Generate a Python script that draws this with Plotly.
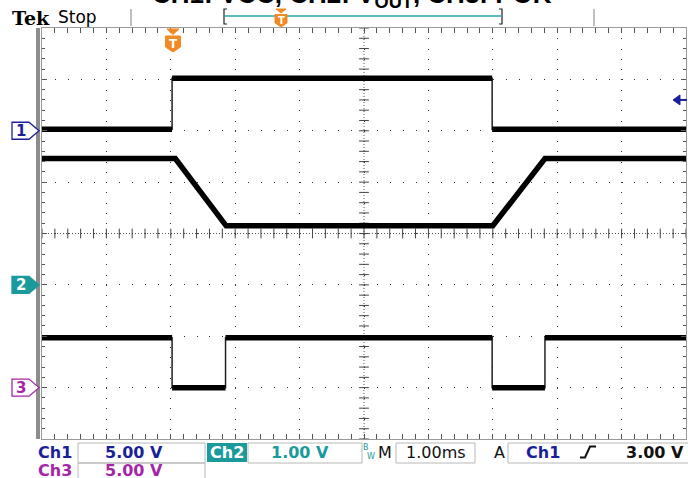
import numpy as np
import plotly.graph_objects as go

# ---------------- data (time in ms, values in volts) ----------------
t_ch1 = [-2.0, 0.02, 0.02, 4.99, 4.99, 8.0]
v_ch1 = [0.15, 0.15, 5.1, 5.1, 0.15, 0.15]

t_ch2 = [-2.0, 0.07, 0.86, 5.0, 5.81, 8.0]
v_ch2 = [2.46, 2.46, 1.15, 1.15, 2.46, 2.46]

t_ch3 = [-2.0, 0.02, 0.02, 0.85, 0.85, 4.99, 4.99, 5.81, 5.81, 8.0]
v_ch3 = [4.86, 4.86, 0.0, 0.0, 4.86, 4.86, 0.0, 0.0, 4.86, 4.86]

# scope settings
ch_scale = {"ch1": 5.0, "ch2": 1.0, "ch3": 5.0}     # V/div
ch_offset = {"ch1": 2.0, "ch2": -1.0, "ch3": -3.0}  # div
time_range = [-2.0, 8.0]
trig_level = 3.00

# ---------------- layout geometry ----------------
W, H = 688, 478
L, R, T, B = 42, 2, 28, 39
PW, PH = W - L - R, H - T - B

def px(x):
    return (x - L) / PW

def py(y):
    return (H - B - y) / PH

def vrange(ch):
    s, o = ch_scale[ch], ch_offset[ch]
    return [(-4 - o) * s, (4 - o) * s]

NAVY = "#1c1f9a"
TEAL = "#1a9a9a"
MAG = "#a526a8"
ORANGE = "#f08a24"

fig = go.Figure()

# center graticule tick marks
cx = np.round(np.arange(time_range[0], time_range[1] + 1e-9, 0.2), 3)
cy = np.round(np.arange(-4, 4 + 1e-9, 0.2), 3)
fig.add_trace(go.Scatter(x=cx, y=np.zeros_like(cx), mode="markers", yaxis="y",
                         marker=dict(symbol="line-ns", size=7, line=dict(width=1, color="#444")),
                         hoverinfo="skip", showlegend=False))
fig.add_trace(go.Scatter(x=np.full_like(cy, 3.0), y=cy, mode="markers", yaxis="y",
                         marker=dict(symbol="line-ew", size=7, line=dict(width=1, color="#444")),
                         hoverinfo="skip", showlegend=False))

def thick_parts(t, v):
    """Split a trace so vertical edges are left out of the thick stroke."""
    xs, ys = [t[0]], [v[0]]
    for i in range(1, len(t)):
        if t[i] == t[i - 1]:
            xs.append(None)
            ys.append(None)
        xs.append(t[i])
        ys.append(v[i])
    return xs, ys

# waveforms
for t, v, ax in [(t_ch1, v_ch1, "y2"), (t_ch2, v_ch2, "y3"), (t_ch3, v_ch3, "y4")]:
    fig.add_trace(go.Scatter(x=t, y=v, yaxis=ax, mode="lines",
                             line=dict(color="#222", width=1.5),
                             hoverinfo="skip", showlegend=False))
    xs, ys = thick_parts(t, v)
    fig.add_trace(go.Scatter(x=xs, y=ys, yaxis=ax, mode="lines", connectgaps=False,
                             line=dict(color="black", width=5.5),
                             hoverinfo="skip", showlegend=False))

shapes = []
ann = []

def path(pts, fill, line, lw, close=True):
    d = "M " + " L ".join(f"{px(a):.5f},{py(b):.5f}" for a, b in pts)
    if close:
        d += " Z"
    shapes.append(dict(type="path", path=d, xref="paper", yref="paper",
                       fillcolor=fill, line=dict(color=line, width=lw), layer="above"))

def rect(x0, y0, x1, y1, fill, line, lw):
    shapes.append(dict(type="rect", xref="paper", yref="paper", x0=px(x0), x1=px(x1),
                       y0=py(y1), y1=py(y0), fillcolor=fill,
                       line=dict(color=line, width=lw), layer="above"))

def seg(x0, y0, x1, y1, color, lw, dash="solid"):
    shapes.append(dict(type="line", xref="paper", yref="paper", x0=px(x0), x1=px(x1),
                       y0=py(y0), y1=py(y1), line=dict(color=color, width=lw, dash=dash),
                       layer="above"))

def txt(s, x, y, color, size, family="DejaVu Sans", bold=True, xanchor="center", yanchor="middle"):
    ann.append(dict(text=f"<b>{s}</b>" if bold else s, x=px(x), y=py(y), xref="paper",
                    yref="paper", xanchor=xanchor, yanchor=yanchor, showarrow=False,
                    font=dict(family=family, size=size, color=color)))

# center dotted lines
shapes.append(dict(type="line", xref="x", yref="y", x0=time_range[0], x1=time_range[1], y0=0, y1=0,
                   line=dict(color="#555", width=1, dash="1px,2px"), layer="below"))
shapes.append(dict(type="line", xref="x", yref="y", x0=3, x1=3, y0=-4, y1=4,
                   line=dict(color="#555", width=1, dash="1px,2px"), layer="below"))

# left thick frame bar
rect(36, T, 40, H - B, "#8c8c8c", "#8c8c8c", 0)

# channel ground markers
def marker(yc, fill, line, label, tcolor):
    path([(12, yc - 8.5), (29, yc - 8.5), (39, yc), (29, yc + 8.5), (12, yc + 8.5)], fill, line, 1.3)
    txt(label, 21, yc + 0.5, tcolor, 15)

y1m = T + (4 - ch_offset["ch1"]) * PH / 8
y2m = T + (4 - ch_offset["ch2"]) * PH / 8
y3m = T + (4 - ch_offset["ch3"]) * PH / 8
marker(y1m, "white", NAVY, "1", NAVY)
marker(y2m, TEAL, TEAL, "2", "white")
marker(y3m, "white", MAG, "3", MAG)

# trigger level arrow (right)
yt = T + (4 - (ch_offset["ch1"] + trig_level / ch_scale["ch1"])) * PH / 8
path([(673, yt), (680, yt - 5), (680, yt + 5)], NAVY, NAVY, 1)
seg(680, yt, 687, yt, NAVY, 2)

# trigger position marker in plot
path([(167, 29), (179, 29), (173, 34.5)], ORANGE, ORANGE, 1)
path([(165.5, 36), (180.5, 36), (180.5, 47), (173, 52), (165.5, 47)], ORANGE, ORANGE, 1)
txt("T", 173, 43.5, "white", 12)

# header
txt("Tek", 31, 18, "black", 19, family="DejaVu Serif")
txt("Stop", 77, 16.5, "black", 17, bold=False)
seg(131, 9, 131, 26, "#aaaaaa", 1.5)
seg(594, 9, 594, 26, "#aaaaaa", 1.5)
seg(225, 16, 501, 16, "#27a9a9", 1.5)
path([(227, 9), (224, 9), (224, 24), (227, 24)], "rgba(0,0,0,0)", "#222", 1.2, close=False)
path([(499, 9), (502, 9), (502, 24), (499, 24)], "rgba(0,0,0,0)", "#222", 1.2, close=False)
path([(276, 9), (286, 9), (281, 13)], ORANGE, ORANGE, 1)
path([(275, 14.5), (287, 14.5), (287, 23), (281, 27), (275, 23)], ORANGE, ORANGE, 1)
txt("T", 281, 20.5, "white", 10)

# title (cut off at top of the page)
ann.append(dict(text="<b>CH1: VCC, CH2: V<sub>OUT</sub>, CH3: POK</b>", x=px(352), y=py(14),
                xref="paper", yref="paper", xanchor="center", yanchor="bottom", showarrow=False,
                font=dict(family="Liberation Sans", size=26, color="black")))

# status bar
BOX = "#b8b8b8"
rect(78, 443, 205, 463, "rgba(0,0,0,0)", BOX, 1)
rect(78, 463, 205, 480, "rgba(0,0,0,0)", BOX, 1)
rect(207, 443, 247, 462, TEAL, TEAL, 0)
rect(248, 443, 362, 463, "rgba(0,0,0,0)", BOX, 1)
rect(396, 443, 475, 463, "rgba(0,0,0,0)", BOX, 1)
rect(508, 443, 690, 463, "rgba(0,0,0,0)", BOX, 1)

FS = 16
txt("Ch1", 55, 452, NAVY, FS)
txt("5.00 V", 134, 452, NAVY, FS)
txt("Ch2", 227, 452, "white", FS)
txt("1.00 V", 300, 452, TEAL, FS)
txt("B", 366, 447, TEAL, 8, bold=False)
txt("W", 371, 456, TEAL, 8, bold=False)
txt("M", 385, 452, "#111", FS, bold=False)
txt("1.00ms", 436, 452, "#111", FS, bold=False)
txt("A", 500, 452, "#111", FS, bold=False)
txt("Ch1", 543, 452, NAVY, FS)
path([(580, 457.5), (585, 457.5), (590, 446.5), (596, 446.5)], "rgba(0,0,0,0)", "#111", 2, close=False)
txt("3.00 V", 655, 452, "#111", FS)
txt("Ch3", 55, 471, MAG, FS)
txt("5.00 V", 134, 471, MAG, FS)

tick_common = dict(showticklabels=False, zeroline=False, showline=True, linecolor="#9a9a9a",
                   linewidth=1, mirror="allticks", ticks="inside", ticklen=5, tickcolor="#555",
                   tickwidth=1, showgrid=True, gridcolor="#333", gridwidth=1)

fig.update_layout(
    width=W, height=H, margin=dict(l=L, r=R, t=T, b=B),
    paper_bgcolor="white", plot_bgcolor="white",
    xaxis=dict(range=time_range, dtick=1, tick0=0, griddash="1px,9.28px",
               minor=dict(dtick=0.2, ticks="inside", ticklen=3, tickcolor="#555", showgrid=False),
               **tick_common),
    yaxis=dict(range=[-4, 4], dtick=1, tick0=0, griddash="1px,11.88px",
               minor=dict(dtick=0.2, ticks="inside", ticklen=3, tickcolor="#555", showgrid=False),
               **tick_common),
    yaxis2=dict(range=vrange("ch1"), overlaying="y", visible=False),
    yaxis3=dict(range=vrange("ch2"), overlaying="y", visible=False),
    yaxis4=dict(range=vrange("ch3"), overlaying="y", visible=False),
    shapes=shapes, annotations=ann, showlegend=False,
)

fig.write_html("out.html", config={"displayModeBar": False},
               post_script="document.body.style.margin='0';document.body.style.overflow='hidden';")
